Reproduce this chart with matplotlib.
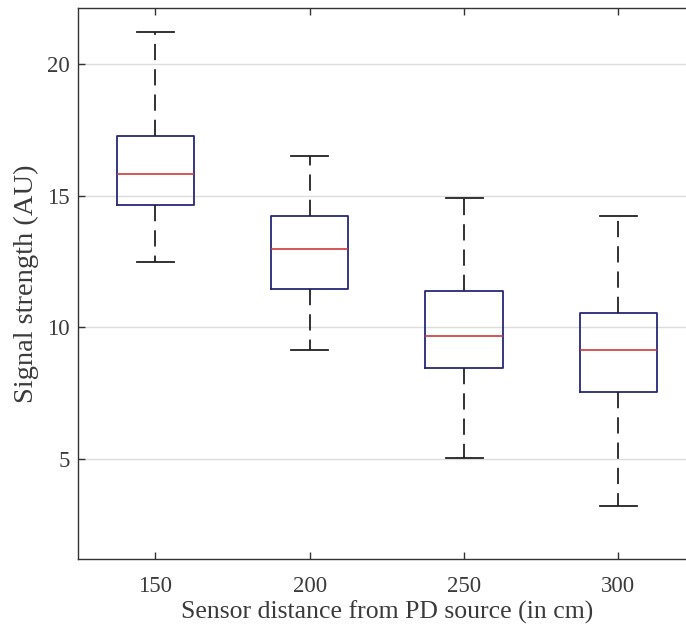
import matplotlib
matplotlib.use("Agg")
import matplotlib.pyplot as plt

# values
distances = ["150", "200", "250", "300"]
whisker_low = [12.5, 9.13, 5.02, 3.22]
q1 = [14.66, 11.46, 8.45, 7.53]
medians = [15.83, 12.99, 9.68, 9.13]
q3 = [17.29, 14.23, 11.39, 10.54]
whisker_high = [21.22, 16.51, 14.91, 14.22]

plt.rcParams['font.family'] = ['Liberation Serif', 'DejaVu Serif']

stats = []
for i in range(len(distances)):
    stats.append({'label': distances[i], 'whislo': whisker_low[i], 'q1': q1[i],
                  'med': medians[i], 'q3': q3[i], 'whishi': whisker_high[i],
                  'fliers': []})

fig = plt.figure(figsize=(6.86, 6.37), dpi=100)
ax = fig.add_axes([0.1141, 0.1225, 0.8997, 0.8645])

ax.bxp(stats, positions=[1, 2, 3, 4], widths=0.5, showfliers=False,
       boxprops=dict(color='#28287a', linewidth=1.3),
       medianprops=dict(color='#d03a3a', linewidth=1.2),
       whiskerprops=dict(color='#222222', linewidth=1.3, linestyle=(0, (9, 5))),
       capprops=dict(color='#222222', linewidth=1.3),
       capwidths=0.24)

ax.set_xlim(0.5, 4.5)
ax.set_ylim(1.2, 22.13)
ax.set_yticks([5, 10, 15, 20])
ax.yaxis.grid(True, color='#dcdcdc', linewidth=1.0)
ax.set_axisbelow(True)

for s in ax.spines.values():
    s.set_color('#333333')
    s.set_linewidth(1.0)

ax.tick_params(direction='in', length=5, width=1, colors='#333333',
               labelcolor='#3a3a3a', labelsize=16.5, top=True, right=True)
ax.tick_params(axis='x', pad=12)
ax.tick_params(axis='y', pad=6, labelsize=16.5)

ax.set_xlabel("Sensor distance from PD source (in cm)", fontsize=18.5,
              color='#3a3a3a', labelpad=3)
ax.set_ylabel("Signal strength (AU)", fontsize=20.5, color='#3a3a3a', labelpad=6)

fig.savefig("out.png", dpi=100)
